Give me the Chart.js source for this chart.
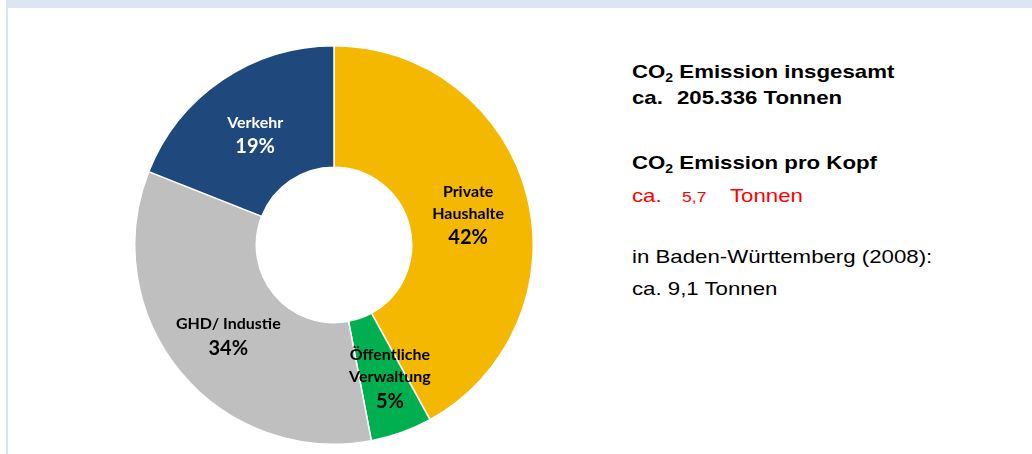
<!DOCTYPE html>
<html>
<head>
<meta charset="utf-8">
<script src="https://cdn.jsdelivr.net/npm/chart.js@4"></script>
<style>
  html, body { margin: 0; padding: 0; background: #fff; }
  body { width: 1032px; height: 454px; position: relative; overflow: hidden; font-family: "Liberation Sans", Arial, sans-serif; }
  .band-top { position: absolute; left: 6px; top: 0; width: 1026px; height: 8px; background: #dce6f2; }
  .band-left { position: absolute; left: 6px; top: 0; width: 2px; height: 454px; background: #dce6f2; }
  #wrap { position: absolute; left: 134px; top: 45px; width: 400px; height: 400px; }
  .info { position: absolute; color: #000; font-size: 19px; line-height: 1; white-space: pre;
          transform: scaleX(1.17); transform-origin: left top; }
  .b { font-weight: bold; }
  .red { color: #ff0000; }
  sub { font-size: 12px; vertical-align: -4px; line-height: 0; }
</style>
</head>
<body>
<div class="band-top"></div>
<div class="band-left"></div>
<div id="wrap"><canvas id="donutChart"></canvas></div>

<div class="info b" style="left:632px;top:62px">CO<sub>2</sub> Emission insgesamt</div>
<div class="info b" style="left:632px;top:88px">ca.</div>
<div class="info b" style="left:677px;top:88px">205.336 Tonnen</div>
<div class="info b" style="left:632px;top:153px">CO<sub>2</sub> Emission pro Kopf</div>
<div class="info red" style="left:632px;top:186px">ca.</div>
<div class="info red" style="left:682px;top:189px;font-size:15px">5,7</div>
<div class="info red" style="left:730px;top:186px">Tonnen</div>
<div class="info" style="left:632px;top:247px">in Baden-Württemberg (2008):</div>
<div class="info" style="left:632px;top:279px">ca. 9,1 Tonnen</div>

<script>
// data
var labels = ['Private Haushalte', 'Öffentliche Verwaltung', 'GHD/ Industie', 'Verkehr'];
var labelLines = [['Private', 'Haushalte'], ['Öffentliche', 'Verwaltung'], ['GHD/ Industie'], ['Verkehr']];
var shares = [42, 5, 34, 19];
var colors = ['#f5b800', '#00b050', '#bfbfbf', '#1f497d'];
var textColors = ['#000', '#000', '#000', '#fff'];
var labelShift = [[0, 5], [9, 4], [1, 4], [-1, 5]];

// draw the text inside every slice
var sliceLabels = {
    id: 'sliceLabels',
    afterDatasetsDraw: function (chart) {
        var ctx = chart.ctx;
        var arcs = chart.getDatasetMeta(0).data;
        ctx.save();
        ctx.textAlign = 'center';
        ctx.textBaseline = 'middle';
        arcs.forEach(function (arc, i) {
            var p = arc.tooltipPosition();
            var x = p.x + labelShift[i][0];
            var y = p.y + labelShift[i][1];
            var lines = labelLines[i];
            var total = lines.length * 22 + 24;
            var ty = y - total / 2 + 10;
            ctx.fillStyle = textColors[i];
            ctx.font = 'bold 16px Lato, "Open Sans", sans-serif';
            lines.forEach(function (l) {
                ctx.fillText(l, x, ty);
                ty += 22;
            });
            ctx.font = 'bold 20px Lato, "Open Sans", sans-serif';
            ctx.fillText(shares[i] + '%', x, ty + 2);
        });
        ctx.restore();
    }
};

var donutChartCanvas = document.getElementById('donutChart').getContext('2d');
new Chart(donutChartCanvas, {
    type: 'doughnut',
    data: {
        labels: labels,
        datasets: [{
            data: shares,
            backgroundColor: colors,
            borderColor: '#ffffff',
            borderWidth: 1.5
        }]
    },
    options: {
        maintainAspectRatio: false,
        responsive: true,
        animation: false,
        cutout: '39%',
        layout: { padding: 0 },
        plugins: {
            legend: { display: false },
            tooltip: { enabled: false }
        }
    },
    plugins: [sliceLabels]
});
</script>
</body>
</html>
